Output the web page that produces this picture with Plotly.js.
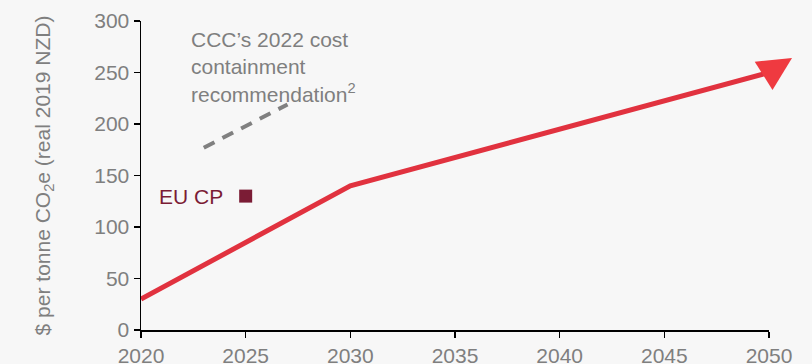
<!DOCTYPE html>
<html><head><meta charset="utf-8">
<script src="https://cdn.plot.ly/plotly-3.0.1.min.js"></script>
<style>html,body{margin:0;padding:0;background:#f7f7f7;}</style>
</head><body><div id="chart" style="width:812px;height:364px;"></div>
<script>
const pathYears = [2020, 2030, 2050];
const pathPrices = [30, 140, 250];
const cccYears = [2023, 2027];
const cccPrices = [177, 219];
const euYears = [2025];
const euPrices = [130];
const xTicks = [2020, 2025, 2030, 2035, 2040, 2045, 2050];
const yTicks = [0, 50, 100, 150, 200, 250, 300];

const font = "'Liberation Sans', Arial, sans-serif";
const grey = '#7f7f7f';
const fs = 21;

// arrowhead sits past the last point, tilted slightly upward from the last segment
const n = pathYears.length;
const tipX = pathYears[n - 1] + (pathYears[n - 1] - pathYears[n - 2]) * 0.055;
const tipY = pathPrices[n - 1] + (pathPrices[n - 1] - pathPrices[n - 2]) * 0.127;

const traces = [
  {x: cccYears, y: cccPrices, mode: 'lines', line: {color: '#808080', width: 4, dash: '12px,9px'}, hoverinfo: 'skip'},
  {x: pathYears, y: pathPrices, mode: 'lines', line: {color: '#e1323f', width: 5}, cliponaxis: false},
  {x: euYears, y: euPrices, mode: 'markers', marker: {symbol: 'square', size: 13, color: '#7b1c35'}, cliponaxis: false}
];

const layout = {
  width: 812, height: 364,
  margin: {l: 141, r: 43, t: 21, b: 34},
  paper_bgcolor: '#f7f7f7', plot_bgcolor: '#f7f7f7',
  showlegend: false,
  font: {family: font, size: fs, color: grey},
  xaxis: {range: [2020, 2050], tickvals: xTicks, ticktext: xTicks.map(String), showgrid: false, zeroline: false,
    showline: true, linecolor: '#000', linewidth: 1.5, ticks: 'outside', ticklen: 6, tickcolor: '#000', tickwidth: 1.5,
    tickfont: {family: font, size: fs, color: grey}, fixedrange: true},
  yaxis: {range: [0, 300], tickvals: yTicks, showgrid: false, zeroline: false,
    showline: true, linecolor: '#000', linewidth: 1.5, ticks: 'outside', ticklen: 6, tickcolor: '#000', tickwidth: 1.5,
    tickfont: {family: font, size: fs, color: grey},
    title: {text: '$ per tonne CO<sub>2</sub>e (real 2019 NZD)', font: {family: font, size: fs, color: grey}, standoff: 38}, fixedrange: true},
  annotations: [
    {xref: 'x', yref: 'y', x: 2022.3, y: 295, xanchor: 'left', yanchor: 'top', align: 'left', showarrow: false,
     text: 'CCC’s 2022 cost<br>containment<br>recommendation<sup>2</sup>', font: {family: font, size: fs, color: grey}},
    {xref: 'x', yref: 'y', x: 2024.0, y: 130, xanchor: 'right', yanchor: 'middle', showarrow: false,
     text: 'EU CP', font: {family: font, size: fs, color: '#7b1c35'}},
    {xref: 'x', yref: 'y', axref: 'x', ayref: 'y', x: tipX, y: tipY, ax: pathYears[n - 1], ay: pathPrices[n - 1],
     text: '', showarrow: true, arrowhead: 2, arrowwidth: 5, arrowsize: 1.34, arrowcolor: '#ef3a40', standoff: 0}
  ]
};
Plotly.newPlot('chart', traces, layout, {displayModeBar: false, staticPlot: true});
</script></body></html>
